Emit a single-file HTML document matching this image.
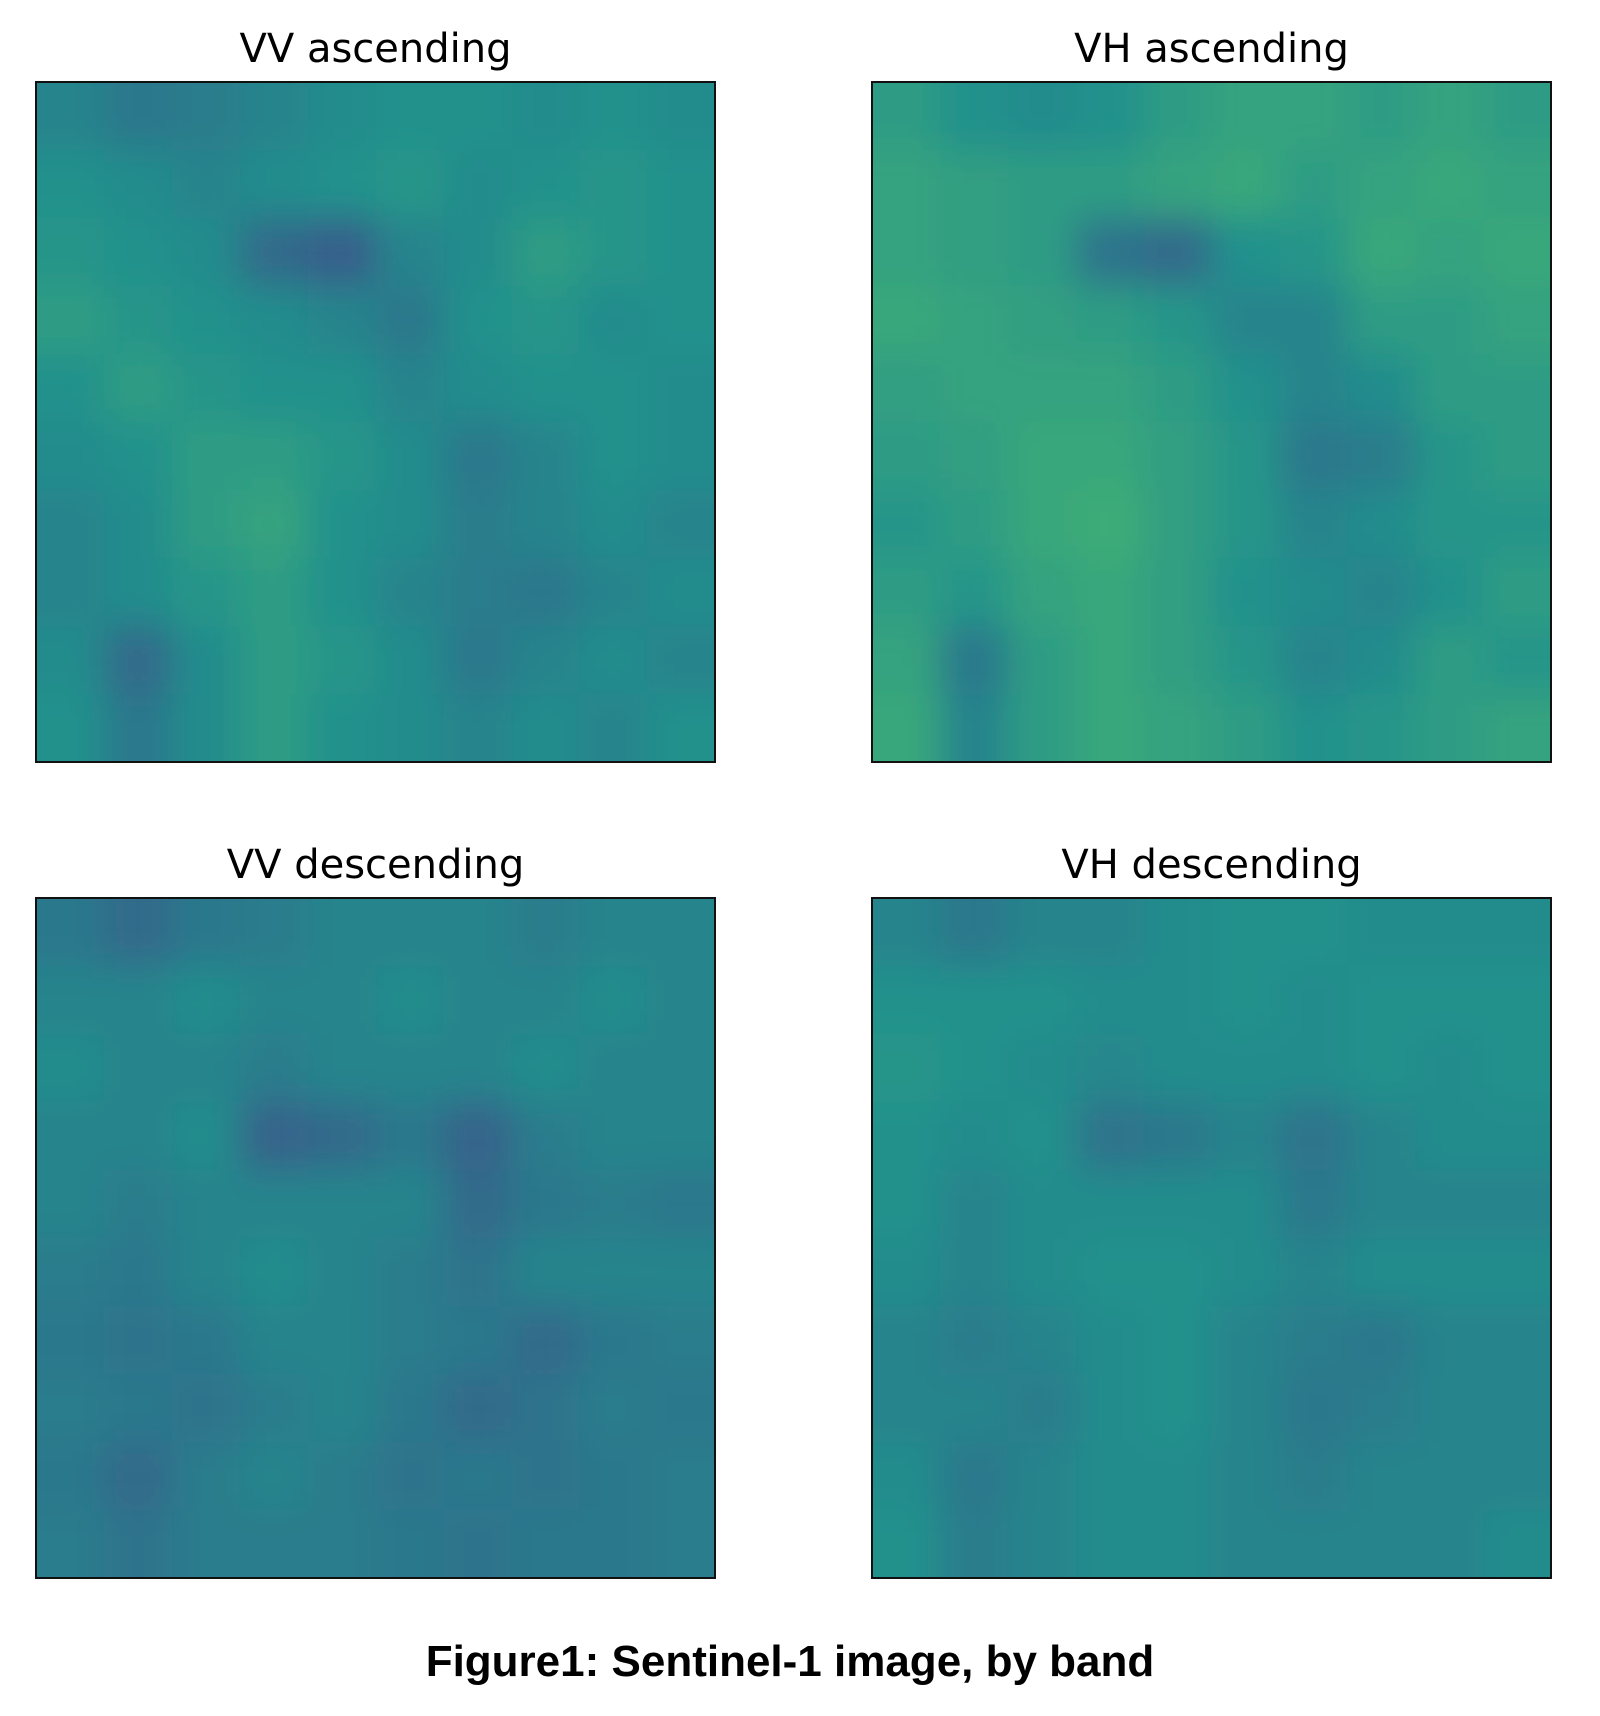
<!DOCTYPE html>
<html><head><meta charset="utf-8">
<style>
html,body{margin:0;padding:0;background:#fff;}
body{width:1600px;height:1716px;position:relative;overflow:hidden;font-family:"DejaVu Sans","Liberation Sans",sans-serif;}
svg{position:absolute;left:0;top:0;}
</style></head>
<body>
<svg id="fig" width="1600" height="1716">
<defs>
<filter id="blur" filterUnits="userSpaceOnUse" x="-100" y="-100" width="1800" height="1900"><feGaussianBlur stdDeviation="18"/></filter>
</defs>
<text x="790" y="1676" text-anchor="middle" font-family="Liberation Sans, sans-serif" font-weight="bold" font-size="44">Figure1: Sentinel-1 image, by band</text>
</svg>
<script>
const titles = ["VV ascending","VH ascending","VV descending","VH descending"];
const vvAsc = [
[.45,.40,.42,.45,.48,.50,.50,.48,.50,.48],
[.50,.48,.45,.48,.50,.52,.48,.50,.52,.50],
[.52,.50,.48,.35,.30,.45,.48,.55,.52,.50],
[.55,.52,.50,.48,.45,.40,.50,.52,.48,.50],
[.50,.55,.52,.50,.50,.45,.48,.50,.50,.48],
[.48,.50,.55,.55,.52,.48,.40,.45,.50,.48],
[.45,.48,.55,.58,.50,.48,.42,.45,.48,.45],
[.45,.48,.52,.55,.50,.45,.42,.40,.45,.48],
[.48,.35,.48,.55,.52,.48,.40,.45,.48,.45],
[.50,.40,.48,.55,.50,.48,.45,.48,.45,.50]];
const vhAsc = [
[.55,.50,.48,.50,.55,.58,.58,.55,.58,.55],
[.58,.56,.55,.55,.58,.60,.55,.58,.60,.58],
[.58,.56,.55,.38,.35,.50,.52,.60,.58,.60],
[.60,.58,.56,.55,.52,.45,.45,.55,.55,.58],
[.56,.58,.58,.58,.55,.50,.45,.48,.55,.55],
[.55,.56,.60,.60,.56,.52,.40,.42,.52,.55],
[.52,.55,.60,.62,.56,.52,.45,.48,.52,.52],
[.55,.52,.58,.60,.56,.50,.48,.45,.50,.55],
[.58,.40,.55,.60,.56,.52,.45,.48,.55,.52],
[.60,.45,.55,.60,.58,.55,.50,.52,.55,.58]];
const vvDesc = [
[.40,.35,.40,.42,.45,.45,.45,.42,.45,.45],
[.45,.45,.48,.45,.45,.48,.45,.45,.48,.45],
[.48,.45,.45,.42,.45,.45,.45,.48,.45,.45],
[.45,.45,.48,.32,.35,.40,.32,.42,.45,.45],
[.45,.42,.45,.45,.45,.45,.35,.40,.42,.40],
[.42,.40,.45,.48,.45,.42,.38,.45,.45,.45],
[.40,.38,.40,.45,.45,.42,.40,.35,.40,.42],
[.42,.40,.38,.42,.45,.40,.35,.38,.42,.40],
[.40,.35,.42,.45,.42,.38,.40,.38,.40,.42],
[.42,.38,.42,.42,.42,.40,.38,.40,.40,.42]];
const vhDesc = [
[.45,.40,.45,.45,.48,.50,.50,.48,.48,.48],
[.50,.50,.50,.48,.48,.50,.48,.50,.50,.50],
[.52,.50,.48,.46,.48,.48,.48,.50,.48,.50],
[.50,.48,.50,.38,.40,.45,.38,.45,.48,.48],
[.50,.45,.48,.48,.48,.48,.40,.45,.45,.45],
[.48,.45,.48,.50,.50,.48,.45,.48,.48,.48],
[.45,.42,.45,.48,.50,.45,.42,.40,.45,.45],
[.45,.45,.42,.48,.50,.45,.40,.42,.45,.45],
[.48,.40,.45,.48,.48,.45,.42,.45,.45,.45],
[.50,.42,.45,.48,.48,.45,.45,.45,.45,.48]];
const grids = [vvAsc, vhAsc, vvDesc, vhDesc];

const NS="http://www.w3.org/2000/svg";
const svg=document.getElementById('fig');
const panels=[{x:36,y:82},{x:872,y:82},{x:36,y:898},{x:872,y:898}];
const W=679,H=680,PAD=60;
const stops=[[0,[68,1,84]],[0.25,[59,82,139]],[0.5,[33,145,140]],[0.75,[94,201,98]],[1,[253,231,37]]];
function viridis(t){t=Math.max(0,Math.min(1,t));for(let i=1;i<stops.length;i++){if(t<=stops[i][0]){const a=stops[i-1],b=stops[i];const f=(t-a[0])/(b[0]-a[0]);const c=a[1].map((v,k)=>Math.round(v+(b[1][k]-v)*f));return `rgb(${c[0]},${c[1]},${c[2]})`;}}return 'rgb(253,231,37)';}
grids.forEach((g,p)=>{
  const P=panels[p];
  const rows=g.length, cols=g[0].length;
  const xs=c=>P.x+c*W/cols, ys=r=>P.y+r*H/rows;
  const cp=document.createElementNS(NS,'clipPath');cp.setAttribute('id','cp'+p);
  const cr=document.createElementNS(NS,'rect');cr.setAttribute('x',P.x);cr.setAttribute('y',P.y);cr.setAttribute('width',W);cr.setAttribute('height',H);
  cp.appendChild(cr);svg.appendChild(cp);
  const outer=document.createElementNS(NS,'g');outer.setAttribute('clip-path','url(#cp'+p+')');
  const grp=document.createElementNS(NS,'g');grp.setAttribute('filter','url(#blur)');
  
  
  g.forEach((row,r)=>row.forEach((v,c)=>{
    let x0=xs(c), y0=ys(r), x1=xs(c+1), y1=ys(r+1);
    if(c===0) x0-=PAD; if(c===cols-1) x1+=PAD;
    if(r===0) y0-=PAD; if(r===rows-1) y1+=PAD;
    const rc=document.createElementNS(NS,'rect');
    rc.setAttribute('x',x0);rc.setAttribute('y',y0);
    rc.setAttribute('width',x1-x0+1);rc.setAttribute('height',y1-y0+1);
    rc.setAttribute('fill',viridis(v));
    
    
    grp.appendChild(rc);
  }));
  outer.appendChild(grp);svg.appendChild(outer);
  const fr=document.createElementNS(NS,'rect');
  fr.setAttribute('x',P.x);fr.setAttribute('y',P.y);fr.setAttribute('width',W);fr.setAttribute('height',H);
  fr.setAttribute('fill','none');fr.setAttribute('stroke','#111');fr.setAttribute('stroke-width','2');
  
  
  svg.appendChild(fr);
  const t=document.createElementNS(NS,'text');
  t.setAttribute('x',P.x+W/2);t.setAttribute('y',P.y-20);t.setAttribute('text-anchor','middle');
  t.setAttribute('font-size','40');t.setAttribute('font-family','DejaVu Sans, sans-serif');
  t.textContent=titles[p];
  
  
  svg.appendChild(t);
});
</script>
</body></html>
